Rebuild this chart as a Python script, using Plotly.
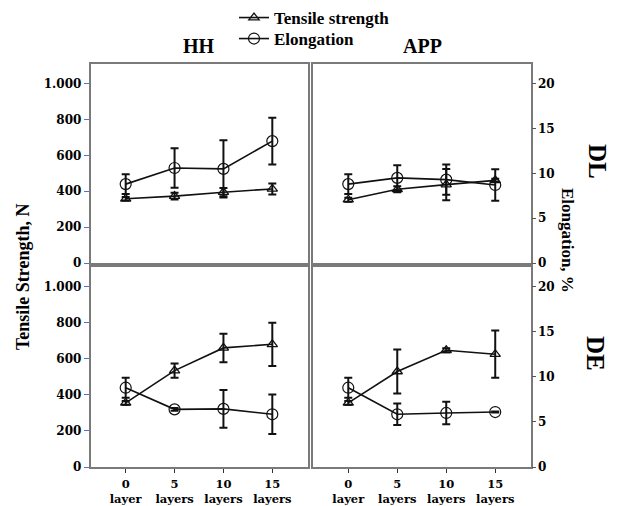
import plotly.graph_objects as go

# Treatment levels (x categories)
categories = ["0<br>layer", "5<br>layers", "10<br>layers", "15<br>layers"]

# Tensile strength, N (mean and error)
ts_hh_dl = [358, 373, 395, 413]
ts_hh_dl_err = [10, 19, 23, 31]
ts_app_dl = [353, 411, 437, 461]
ts_app_dl_err = [11, 17, 87, 9]
ts_hh_de = [356, 535, 661, 681]
ts_hh_de_err = [10, 40, 79, 120]
ts_app_de = [356, 530, 648, 626]
ts_app_de_err = [10, 122, 11, 131]

# Elongation, % (mean and error)
el_hh_dl = [8.8, 10.6, 10.5, 13.6]
el_hh_dl_err = [1.1, 2.2, 3.2, 2.6]
el_app_dl = [8.8, 9.5, 9.3, 8.7]
el_app_dl_err = [1.1, 1.4, 1.7, 1.75]
el_hh_de = [8.8, 6.4, 6.45, 5.85]
el_hh_de_err = [1.1, 0.15, 2.1, 2.2]
el_app_de = [8.8, 5.85, 6.0, 6.1]
el_app_de_err = [1.1, 1.2, 1.25, 0.05]

# Axis ticks
ts_ticks = [0, 200, 400, 600, 800, 1000]
ts_ticktext = ["0", "200", "400", "600", "800", "1.000"]
el_ticks = [0, 5, 10, 15, 20]
el_ticktext = ["0", "5", "10", "15", "20"]

W, H = 617, 506
SERIF = "Liberation Serif"
TICKFONT = dict(family="DejaVu Serif", size=12, color="black", weight="bold")
XTICKFONT = dict(family="DejaVu Serif", size=11.5, color="black", weight="bold")
FRAME = "#7a7a7a"
LEFT_TICK = "#5a6fd6"


def px_x(p):
    return p / W


def px_y(p):
    return 1 - p / H


col_dom = [[px_x(90.5), px_x(307.5)], [px_x(313), px_x(530.5)]]
row_dom = [[px_y(263), px_y(64)], [px_y(467), px_y(267)]]

panels = [
    # (row, col, tensile, tensile err, elong, elong err)
    (0, 0, ts_hh_dl, ts_hh_dl_err, el_hh_dl, el_hh_dl_err),
    (0, 1, ts_app_dl, ts_app_dl_err, el_app_dl, el_app_dl_err),
    (1, 0, ts_hh_de, ts_hh_de_err, el_hh_de, el_hh_de_err),
    (1, 1, ts_app_de, ts_app_de_err, el_app_de, el_app_de_err),
]

fig = go.Figure()
layout = {}

for i, (r, c, ts, ts_err, el, el_err) in enumerate(panels):
    xi = i + 1
    yt = 2 * i + 1
    ye = 2 * i + 2
    xname = "x" if xi == 1 else f"x{xi}"
    ytname = "y" if yt == 1 else f"y{yt}"
    yename = f"y{ye}"
    first = i == 0

    fig.add_trace(go.Scatter(
        x=categories, y=ts, xaxis=xname, yaxis=ytname,
        mode="lines+markers", name="Tensile strength",
        line=dict(color="#111", width=1.6),
        marker=dict(symbol="triangle-up-open", size=9, color="#111",
                    line=dict(width=1.3, color="#111")),
        error_y=dict(type="data", array=ts_err, visible=True,
                     color="#111", thickness=2, width=4),
        showlegend=first, legend="legend",
    ))
    fig.add_trace(go.Scatter(
        x=categories, y=el, xaxis=xname, yaxis=yename,
        mode="lines+markers", name="Elongation",
        line=dict(color="#111", width=1.6),
        marker=dict(symbol="circle-open", size=11, color="#111",
                    line=dict(width=1.2, color="#111")),
        error_y=dict(type="data", array=el_err, visible=True,
                     color="#111", thickness=2, width=4),
        showlegend=first, legend="legend2",
    ))

    bottom = r == 1
    left = c == 0
    layout["xaxis" if xi == 1 else f"xaxis{xi}"] = dict(
        domain=col_dom[c], anchor=ytname, type="category",
        range=[-0.72, 3.72], showgrid=False, zeroline=False, automargin=False,
        showline=True, mirror=True, linecolor=FRAME, linewidth=1.5,
        ticks="outside" if bottom else "", ticklen=4, tickcolor="#333",
        showticklabels=bottom, tickfont=XTICKFONT, ticklabelstandoff=1,
    )
    layout["yaxis" if yt == 1 else f"yaxis{yt}"] = dict(
        domain=row_dom[r], anchor=xname, range=[0, 1110], automargin=False,
        showgrid=False, zeroline=False,
        showline=True, mirror=True, linecolor=FRAME, linewidth=1.5,
        tickvals=ts_ticks, ticktext=ts_ticktext,
        ticks="outside" if left else "", ticklen=5, tickcolor=LEFT_TICK,
        showticklabels=left, tickfont=TICKFONT,
    )
    layout[f"yaxis{ye}"] = dict(
        overlaying=ytname, anchor=xname, side="right", range=[0, 22.2],
        showgrid=False, zeroline=False, showline=False, automargin=False,
        tickvals=el_ticks, ticktext=el_ticktext,
        ticks="outside" if not left else "", ticklen=4, tickcolor="#555",
        showticklabels=not left, tickfont=TICKFONT,
    )

legend_font = dict(family=SERIF, size=17, color="black", weight="bold")
layout["legend"] = dict(
    x=px_x(234), y=px_y(18), xanchor="left", yanchor="middle",
    font=legend_font, bgcolor="rgba(0,0,0,0)", borderwidth=0,
)
layout["legend2"] = dict(
    x=px_x(234), y=px_y(39), xanchor="left", yanchor="middle",
    font=legend_font, bgcolor="rgba(0,0,0,0)", borderwidth=0,
)

annotations = [
    dict(text="HH", x=px_x(199), y=px_y(46), font=dict(family=SERIF, size=20, weight="bold")),
    dict(text="APP", x=px_x(422), y=px_y(46), font=dict(family=SERIF, size=20, weight="bold")),
    dict(text="DL", x=px_x(597), y=px_y(161), textangle=90,
         font=dict(family=SERIF, size=25, weight="bold")),
    dict(text="DE", x=px_x(596), y=px_y(353), textangle=90,
         font=dict(family=SERIF, size=25, weight="bold")),
    dict(text="Elongation, %", x=px_x(567), y=px_y(240), textangle=90,
         font=dict(family=SERIF, size=17, weight="bold")),
    dict(text="Tensile Strength, N", x=px_x(23), y=px_y(277), textangle=-90,
         font=dict(family=SERIF, size=18, weight="bold")),
]
for a in annotations:
    a.update(xref="paper", yref="paper", showarrow=False,
             xanchor="center", yanchor="middle")
    a["font"].setdefault("color", "black")

fig.update_layout(
    width=W, height=H, margin=dict(l=0, r=0, t=0, b=0),
    paper_bgcolor="white", plot_bgcolor="white",
    annotations=annotations, **layout,
)

fig.write_html("out.html")
